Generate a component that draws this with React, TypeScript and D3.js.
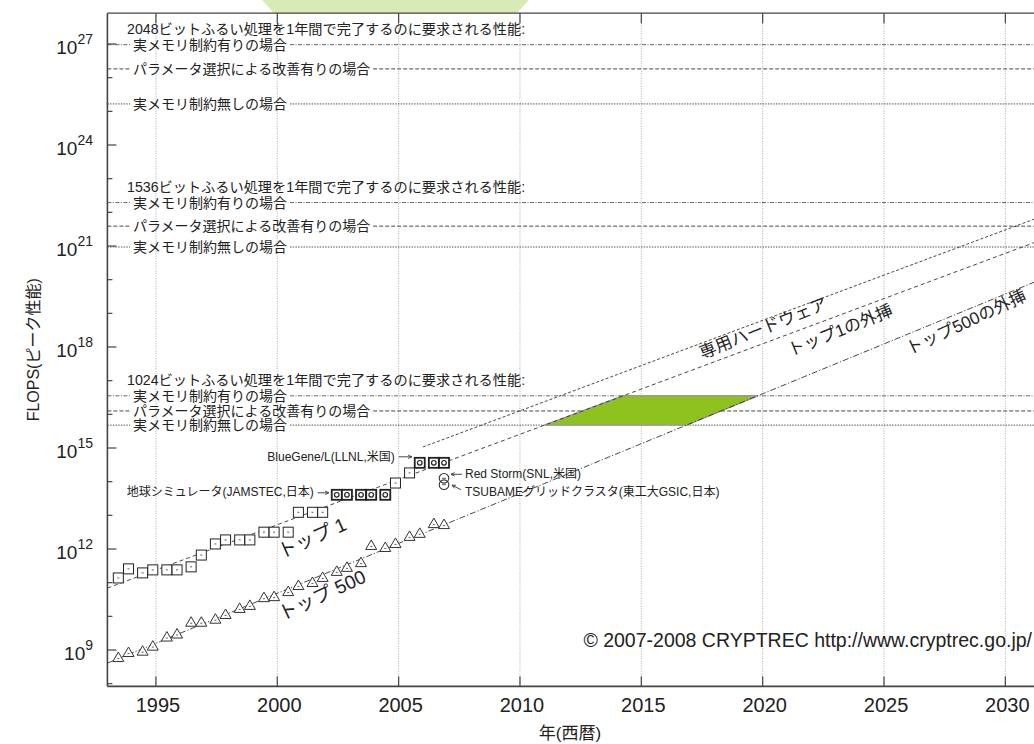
import React, { useEffect, useRef } from 'react';
import * as d3 from 'd3';

const W = 1034;
const H = 744;

// axis ticks
const xTicks = [1995, 2000, 2005, 2010, 2015, 2020, 2025, 2030];
const yMajorExp = [9, 12, 15, 18, 21, 24, 27];
const yMinorExp = [8, 10, 11, 13, 14, 16, 17, 19, 20, 22, 23, 25, 26];

// TOP500 #1 (peak FLOPS, log10)
const top1Years = [1993.45, 1993.87, 1994.45, 1994.87, 1995.45, 1995.87, 1996.45, 1996.87, 1997.45, 1997.87,
  1998.45, 1998.87, 1999.45, 1999.87, 2000.45, 2000.87, 2001.45, 2001.87, 2002.45, 2002.87,
  2003.45, 2003.87, 2004.45, 2004.87, 2005.45, 2005.87, 2006.45, 2006.87];
const top1Log = [11.14, 11.41, 11.29, 11.38, 11.38, 11.38, 11.47, 11.82, 12.15, 12.27,
  12.27, 12.27, 12.5, 12.5, 12.5, 13.09, 13.09, 13.09, 13.61, 13.61,
  13.61, 13.61, 13.61, 13.96, 14.26, 14.56, 14.56, 14.56];
const top1Highlight = [0, 0, 0, 0, 0, 0, 0, 0, 0, 0, 0, 0, 0, 0, 0, 0, 0, 0, 1, 1, 1, 1, 1, 0, 0, 1, 1, 1];

// TOP500 #500 (peak FLOPS, log10)
const top500Years = [1993.45, 1993.87, 1994.45, 1994.87, 1995.45, 1995.87, 1996.45, 1996.87, 1997.45, 1997.87,
  1998.45, 1998.87, 1999.45, 1999.87, 2000.45, 2000.87, 2001.45, 2001.87, 2002.45, 2002.87,
  2003.45, 2003.87, 2004.45, 2004.87, 2005.45, 2005.87, 2006.45, 2006.87];
const top500Log = [8.79, 8.94, 8.98, 9.13, 9.4, 9.49, 9.84, 9.84, 9.93, 10.07,
  10.25, 10.34, 10.57, 10.6, 10.75, 10.93, 11.02, 11.17, 11.35, 11.47,
  11.61, 12.12, 12.06, 12.18, 12.39, 12.48, 12.77, 12.74];

// other machines
const otherYears = [2006.87, 2006.87];
const otherLog = [14.1, 13.91];
const otherNames = ['Red Storm(SNL,米国)', 'TSUBAMEグリッドクラスタ(東工大GSIC,日本)'];

// required performance thresholds (log10 FLOPS)
const thresholdBits = ['2048', '1536', '1024'];
const thresholdCases = ['実メモリ制約有りの場合', 'パラメータ選択による改善有りの場合', '実メモリ制約無しの場合'];
const threshold2048 = [26.98, 26.26, 25.22];
const threshold1536 = [22.29, 21.59, 20.97];
const threshold1024 = [16.55, 16.1, 15.68];

// trend lines: start year, start log10, slope (decades / year)
const trendNames = ['top1', 'top500', 'hw'];
const trendStartYear = [1993, 1993, 2006.0];
const trendStartLog = [10.84, 8.61, 15.03];
const trendSlope = [0.2687, 0.2963, 0.2687];

// labels on trends
const trendLabelText = ['トップ 1', 'トップ 500', '専用ハードウェア', 'トップ1の外挿', 'トップ500の外挿'];
const trendLabelYear = [2001.43, 2001.84, 2020.02, 2023.19, 2028.38];
const trendLabelLog = [12.33, 10.63, 18.56, 18.5, 18.74];
const trendLabelAngle = [-24, -25, -22, -22, -25];
const trendLabelSize = [19, 19, 17, 17, 17];

export default function App() {
  const ref = useRef<SVGSVGElement>(null);

  useEffect(() => {
    const svg = d3.select(ref.current);
    svg.selectAll('*').remove();
    const font = "'Liberation Sans', 'Noto Sans CJK JP', sans-serif";
    const P = (v: number) => Math.pow(10, v);
    const x = d3.scaleLinear().domain([1993, 2031.18]).range([107.4, 1034]);
    const y = d3.scaleLog().domain([P(7.919), P(27.915)]).range([686.4, 13.2]);
    const x0 = x(1993), x1 = W;
    const yTop = y(P(27.915)), yBot = y(P(7.919));

    // decorative pale green shape at top
    svg.append('path').attr('d', 'M262,0 L529,0 L517,13 L274,13 Z').attr('fill', '#d8eab6');

    svg.append('rect').attr('x', x0).attr('y', yTop).attr('width', x1 - x0).attr('height', yBot - yTop).attr('fill', '#fff');

    // vertical grid
    svg.append('g').selectAll('line').data(xTicks).join('line')
      .attr('x1', d => x(d)).attr('x2', d => x(d)).attr('y1', yTop).attr('y2', yBot)
      .attr('stroke', '#a0a0a0').attr('stroke-width', 0.9).attr('stroke-dasharray', '1,1.5');

    // thresholds
    const groups = [threshold2048, threshold1536, threshold1024];
    const caseDash = ['4,1.5,1,1.5', '4,2', '1.5,1.2'];
    const caseColor = ['#555', '#333', '#444'];
    groups.forEach((vals, gi) => {
      const g = svg.append('g');
      const yh = y(P(vals[0]));
      g.append('text').attr('x', 127).attr('y', yh - 10.5).text(`${thresholdBits[gi]}ビットふるい処理を1年間で完了するのに要求される性能:`)
        .attr('font-family', font).attr('font-size', 14.2).attr('fill', '#222');
      vals.forEach((v, ci) => {
        const yy = y(P(v));
        const t = g.append('text').attr('x', 133).attr('y', yy + 5).text(thresholdCases[ci])
          .attr('font-family', font).attr('font-size', 14).attr('fill', '#222');
        const w = (t.node() as SVGTextElement).getComputedTextLength();
        const segs = [[x0, 130], [133 + w + 3, x1]];
        segs.forEach(s => {
          g.append('line').attr('x1', s[0]).attr('x2', s[1]).attr('y1', yy).attr('y2', yy)
            .attr('stroke', caseColor[ci]).attr('stroke-width', 0.9).attr('stroke-dasharray', caseDash[ci]);
        });
      });
    });

    // green feasible region for 1024-bit: between top1 and top500 extrapolations
    const yearAt = (ti: number, lv: number) => trendStartYear[ti] + (lv - trendStartLog[ti]) / trendSlope[ti];
    const hi = threshold1024[0], lo = threshold1024[2];
    const poly: [number, number][] = [
      [x(yearAt(0, lo)), y(P(lo))],
      [x(yearAt(0, hi)), y(P(hi))],
      [x(yearAt(1, hi)), y(P(hi))],
      [x(yearAt(1, lo)), y(P(lo))],
    ];
    svg.append('path').attr('d', 'M' + poly.map(p => p.join(',')).join('L') + 'Z')
      .attr('fill', '#8dc21f').attr('stroke', '#9a9a9a').attr('stroke-width', 1.4);

    // trend lines
    const trendDash = ['4,3', '6,2,1.2,2', '3,2'];
    trendNames.forEach((n, i) => {
      const ya = trendStartYear[i];
      const yb = 2031.18;
      svg.append('line')
        .attr('x1', x(ya)).attr('y1', y(P(trendStartLog[i])))
        .attr('x2', x(yb)).attr('y2', y(P(trendStartLog[i] + (yb - ya) * trendSlope[i])))
        .attr('stroke', '#333').attr('stroke-width', 0.9).attr('stroke-dasharray', trendDash[i]);
    });

    trendLabelText.forEach((t, i) => {
      const px = x(trendLabelYear[i]), py = y(P(trendLabelLog[i]));
      svg.append('text').attr('transform', `translate(${px},${py}) rotate(${trendLabelAngle[i]})`)
        .attr('text-anchor', 'middle').attr('dy', '0.35em').attr('font-family', font)
        .attr('font-size', trendLabelSize[i]).attr('fill', '#222').text(t);
    });

    // top500 triangles
    const tri = svg.append('g');
    top500Years.forEach((yr, i) => {
      const cx = x(yr), cy = y(P(top500Log[i]));
      tri.append('path').attr('d', `M${cx - 5.5},${cy + 4.5} L${cx + 5.5},${cy + 4.5} L${cx},${cy - 5} Z`)
        .attr('fill', '#fff').attr('stroke', '#333').attr('stroke-width', 1);
      tri.append('line').attr('x1', cx - 1).attr('x2', cx + 1).attr('y1', cy + 1.5).attr('y2', cy + 1.5)
        .attr('stroke', '#333').attr('stroke-width', 0.8);
    });

    // top1 squares
    const sq = svg.append('g');
    top1Years.forEach((yr, i) => {
      const cx = x(yr), cy = y(P(top1Log[i]));
      const h = top1Highlight[i] === 1;
      sq.append('rect').attr('x', cx - 5).attr('y', cy - 5).attr('width', 10).attr('height', 10)
        .attr('fill', '#fff').attr('stroke', '#222').attr('stroke-width', h ? 1.8 : 1);
      if (h) {
        sq.append('circle').attr('cx', cx).attr('cy', cy).attr('r', 2.3).attr('fill', 'none').attr('stroke', '#222').attr('stroke-width', 1.2);
      } else {
        sq.append('line').attr('x1', cx - 1).attr('x2', cx + 1).attr('y1', cy).attr('y2', cy).attr('stroke', '#333').attr('stroke-width', 0.8);
      }
    });

    // other machines (circles)
    otherYears.forEach((yr, i) => {
      const cx = x(yr), cy = y(P(otherLog[i]));
      svg.append('circle').attr('cx', cx).attr('cy', cy).attr('r', 4.8).attr('fill', 'none').attr('stroke', '#333').attr('stroke-width', 1.1);
      svg.append('line').attr('x1', cx - 2).attr('x2', cx + 2).attr('y1', cy).attr('y2', cy).attr('stroke', '#333').attr('stroke-width', 0.8);
    });

    // annotations
    const arrow = (xa: number, ya: number, xb: number, yb: number) => {
      svg.append('line').attr('x1', xa).attr('y1', ya).attr('x2', xb).attr('y2', yb).attr('stroke', '#333').attr('stroke-width', 0.9);
      const ang = Math.atan2(yb - ya, xb - xa);
      const l = 4, s = 0.45;
      const p1 = [xb - l * Math.cos(ang - s), yb - l * Math.sin(ang - s)];
      const p2 = [xb - l * Math.cos(ang + s), yb - l * Math.sin(ang + s)];
      svg.append('path').attr('d', `M${p1[0]},${p1[1]} L${xb},${yb} L${p2[0]},${p2[1]}`).attr('fill', 'none').attr('stroke', '#333').attr('stroke-width', 0.9);
    };
    const ann = (tx: number, ty: number, t: string, anchor: string) => {
      svg.append('text').attr('x', tx).attr('y', ty).attr('text-anchor', anchor).attr('font-family', font)
        .attr('font-size', 12).attr('fill', '#222').text(t);
    };
    // BlueGene/L
    const bgx = x(top1Years[25]) - 5, bgy = y(P(top1Log[25]));
    ann(bgx - 20, bgy - 2, 'BlueGene/L(LLNL,米国)', 'end');
    arrow(bgx - 16, bgy - 6, bgx - 3, bgy - 6);
    // Earth Simulator
    const esx = x(top1Years[18]) - 5, esy = y(P(top1Log[18]));
    ann(esx - 18, esy + 1, '地球シミュレータ(JAMSTEC,日本)', 'end');
    arrow(esx - 14, esy - 2, esx - 3, esy - 2);
    // Red Storm
    const rsx = x(otherYears[0]) + 5, rsy = y(P(otherLog[0]));
    arrow(rsx + 13, rsy - 4, rsx + 2, rsy - 4);
    ann(rsx + 16, rsy, otherNames[0], 'start');
    // TSUBAME
    const tsy = y(P(otherLog[1]));
    arrow(rsx + 12, tsy + 5, rsx + 3, tsy + 0.5);
    ann(rsx + 16, tsy + 11, otherNames[1], 'start');

    // frame
    const ax = svg.append('g').attr('stroke', '#444').attr('stroke-width', 1.6);
    ax.append('line').attr('x1', x0).attr('x2', x0).attr('y1', yTop).attr('y2', yBot);
    ax.append('line').attr('x1', x0).attr('x2', x1).attr('y1', yBot).attr('y2', yBot);
    ax.append('line').attr('x1', x0).attr('x2', x1).attr('y1', yTop).attr('y2', yTop).attr('stroke-width', 1.3);

    // x ticks
    xTicks.forEach(t => {
      svg.append('line').attr('x1', x(t)).attr('x2', x(t)).attr('y1', yBot).attr('y2', yBot - 10).attr('stroke', '#444').attr('stroke-width', 1.2);
      svg.append('line').attr('x1', x(t)).attr('x2', x(t)).attr('y1', yTop).attr('y2', yTop + 10).attr('stroke', '#444').attr('stroke-width', 1.2);
      svg.append('text').attr('x', x(t) + 2).attr('y', 712).attr('text-anchor', 'middle').attr('font-family', font)
        .attr('font-size', 20).attr('fill', '#222').text(String(t));
    });
    // y ticks
    yMajorExp.forEach(e => {
      const yy = y(P(e));
      svg.append('line').attr('x1', x0).attr('x2', x0 + 9).attr('y1', yy).attr('y2', yy).attr('stroke', '#444').attr('stroke-width', 1.2);
      const t = svg.append('text').attr('x', 93).attr('y', yy + 10).attr('text-anchor', 'end').attr('font-family', font).attr('fill', '#222');
      t.append('tspan').attr('font-size', 19).text('10');
      t.append('tspan').attr('font-size', 14).attr('dy', -10).text(String(e));
    });
    yMinorExp.forEach(e => {
      const yy = y(P(e));
      svg.append('line').attr('x1', x0).attr('x2', x0 + 5).attr('y1', yy).attr('y2', yy).attr('stroke', '#444').attr('stroke-width', 1.2);
    });

    // axis titles
    svg.append('text').attr('x', 570).attr('y', 739).attr('text-anchor', 'middle').attr('font-family', font)
      .attr('font-size', 17).attr('fill', '#222').text('年(西暦)');
    svg.append('text').attr('transform', `translate(39,${(yTop + yBot) / 2}) rotate(-90)`).attr('text-anchor', 'middle')
      .attr('font-family', font).attr('font-size', 16).attr('fill', '#222').text('FLOPS(ピーク性能)');

    // copyright
    svg.append('text').attr('x', 1032).attr('y', 647).attr('text-anchor', 'end').attr('font-family', font)
      .attr('font-size', 19.5).attr('fill', '#222').text('© 2007-2008 CRYPTREC http://www.cryptrec.go.jp/');
  }, []);

  return <svg ref={ref} width={W} height={H} style={{ position: 'absolute', left: 0, top: 0, background: '#fff' }} />;
}
